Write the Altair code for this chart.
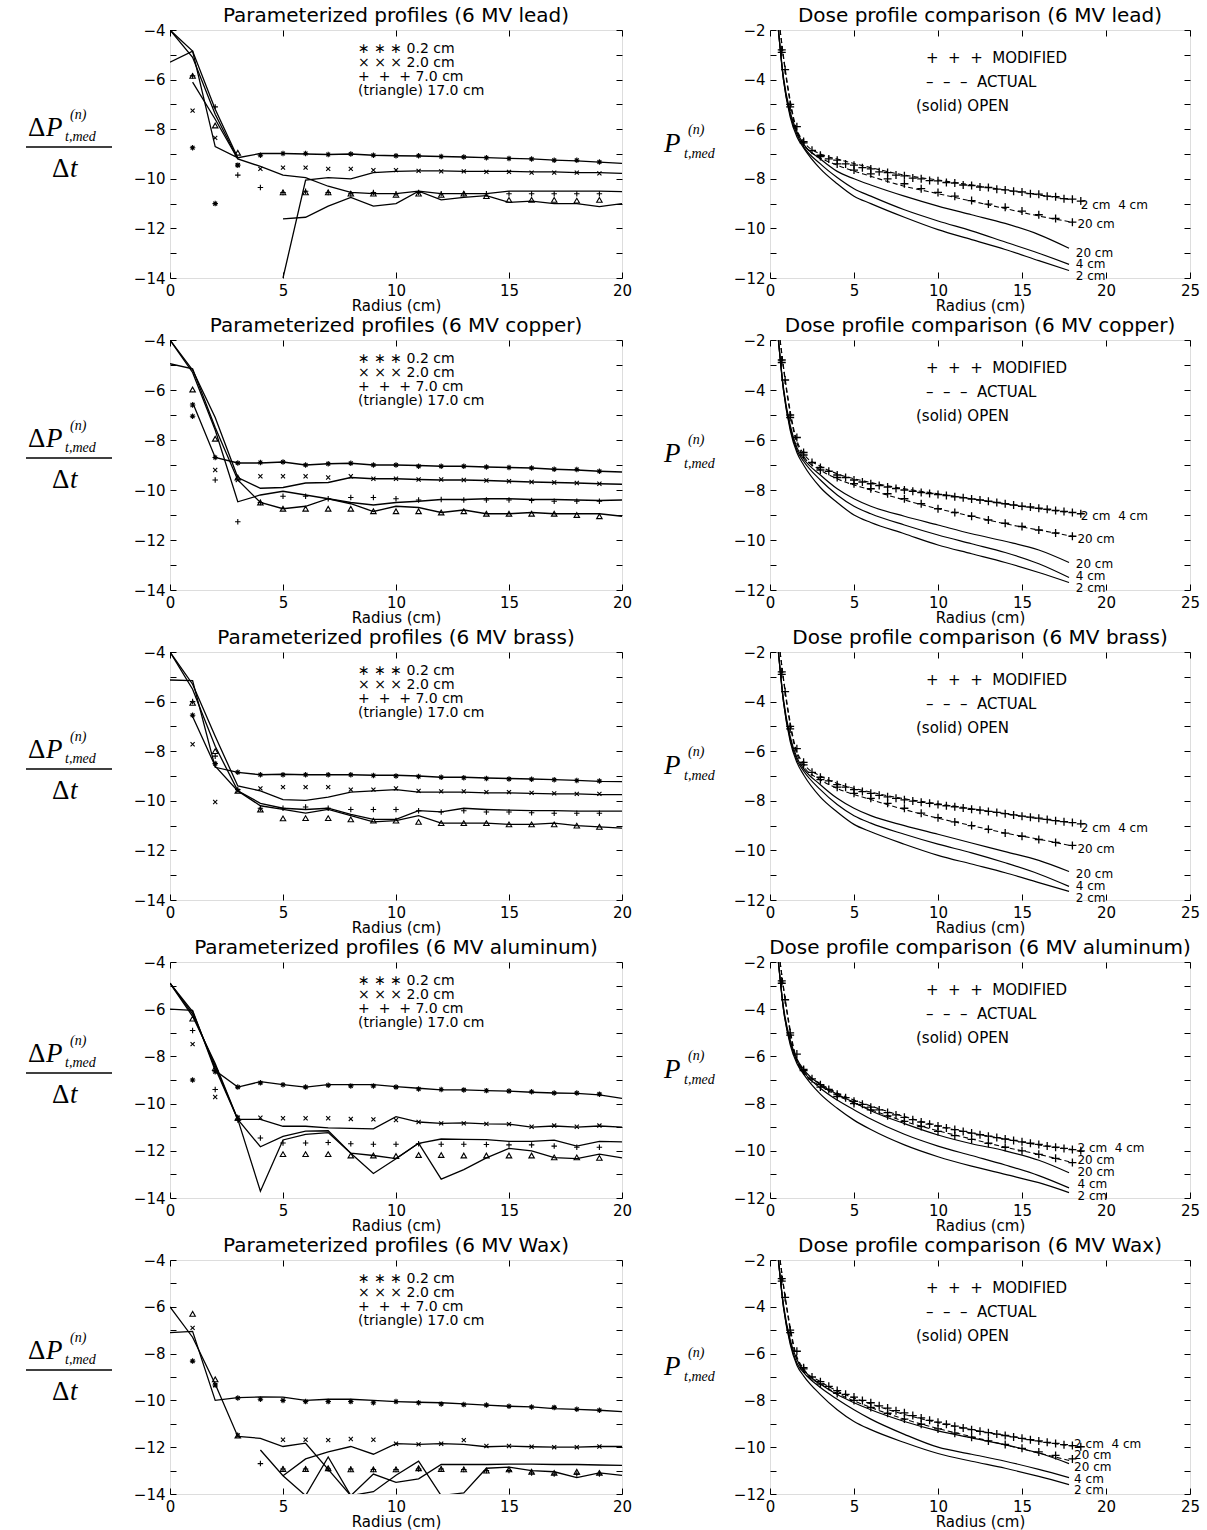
import altair as alt
import pandas as pd

FONT = "DejaVu Sans"
SERIF = "Liberation Serif"
NB = "\u00a0"

MATERIALS = ["lead", "copper", "brass", "aluminum", "Wax"]
LEFT_TITLES = ["Parameterized profiles (6 MV lead)", "Parameterized profiles (6 MV copper)",
               "Parameterized profiles (6 MV brass)", "Parameterized profiles (6 MV aluminum)",
               "Parameterized profiles (6 MV Wax)"]
RIGHT_TITLES = ["Dose profile comparison (6 MV lead)", "Dose profile comparison (6 MV copper)",
                "Dose profile comparison (6 MV brass)", "Dose profile comparison (6 MV aluminum)",
                "Dose profile comparison (6 MV Wax)"]

SERIES = ["0.2 cm", "2.0 cm", "7.0 cm", "17.0 cm"]
LEGEND_LEFT = ["\u2217 \u2217 \u2217 0.2 cm", "\u00d7 \u00d7 \u00d7 2.0 cm",
               "+" + NB * 2 + "+" + NB * 2 + "+ 7.0 cm", "(triangle) 17.0 cm"]
LEGEND_RIGHT = ["+" + NB * 2 + "+" + NB * 2 + "+" + NB * 2 + "MODIFIED",
                "\u2013" + NB * 2 + "\u2013" + NB * 2 + "\u2013" + NB * 2 + "ACTUAL",
                "(solid) OPEN"]
END_LABELS = ["2 cm" + NB * 2 + "4 cm", "20 cm", "20 cm", "4 cm", "2 cm"]

# ---------------- left panels: fitted curves (radius 0..20) and measured points (radius 1..19)
LEAD_FIT_02 = [-5.3, -4.85, -8.7, -9.15, -8.98, -8.98, -9.0, -9.02, -9.0, -9.05, -9.07, -9.08, -9.1, -9.12, -9.15, -9.18, -9.2, -9.25, -9.28, -9.33, -9.38]
LEAD_FIT_20A = [-4.0, -4.85, -7.2, -9.15]
LEAD_FIT_20B = [-14.0, -10.05, -9.95, -10.0, -9.75, -9.7, -9.68, -9.68, -9.7, -9.7, -9.7, -9.72, -9.72, -9.75, -9.75, -9.78]
LEAD_FIT_70 = [-4.0, -5.1, -7.4, -9.2, -9.5, -9.85, -9.95, -10.3, -10.55, -10.6, -10.6, -10.5, -10.6, -10.6, -10.6, -10.5, -10.5, -10.5, -10.5, -10.5, -10.52]
LEAD_FIT_17A = [-6.1, -7.6, -9.2]
LEAD_FIT_17B = [-11.62, -11.55, -11.1, -10.75, -11.1, -11.0, -10.5, -10.85, -10.75, -10.68, -10.95, -10.9, -11.0, -11.0, -11.12, -11.0]
LEAD_M02 = [-8.75, -11.0, -9.45, -9.05, -8.98, -8.98, -9.02, -9.0, -9.05, -9.07, -9.07, -9.1, -9.12, -9.15, -9.18, -9.2, -9.25, -9.25, -9.32]
LEAD_M20 = [-7.25, -8.35, -9.45, -9.6, -9.55, -9.55, -9.6, -9.6, -9.65, -9.65, -9.68, -9.7, -9.7, -9.72, -9.72, -9.75, -9.75, -9.75, -9.78]
LEAD_M70 = [-5.85, -7.1, -9.85, -10.35, -10.55, -10.5, -10.55, -10.6, -10.55, -10.6, -10.55, -10.6, -10.6, -10.6, -10.6, -10.6, -10.6, -10.6, -10.6]
LEAD_M17 = [-5.85, -7.85, -8.95, None, -10.55, -10.55, -10.55, -10.6, -10.6, -10.65, -10.6, -10.65, -10.6, -10.7, -10.85, -10.85, -10.85, -10.88, -10.85]

CU_FIT_02 = [-6.5, -8.7, -8.92, -8.92, -8.88, -9.0, -8.95, -8.93, -9.0, -9.0, -9.02, -9.05, -9.05, -9.08, -9.1, -9.12, -9.17, -9.2, -9.25, -9.28]
CU_FIT_20 = [-4.0, -5.2, -7.1, -9.5, -9.93, -9.9, -9.72, -9.7, -9.5, -9.55, -9.55, -9.58, -9.6, -9.6, -9.62, -9.65, -9.68, -9.7, -9.72, -9.75, -9.77]
CU_FIT_70 = [-4.0, -5.3, -7.6, -10.47, -10.2, -10.05, -10.2, -10.35, -10.5, -10.6, -10.5, -10.45, -10.38, -10.38, -10.35, -10.35, -10.38, -10.38, -10.4, -10.42, -10.4]
CU_FIT_17 = [-4.95, -5.15, -7.5, -9.6, -10.5, -10.75, -10.65, -10.35, -10.55, -10.86, -10.65, -10.7, -10.9, -10.8, -10.95, -10.95, -10.9, -10.95, -10.95, -10.95, -11.05]
CU_M02 = [-7.05, -8.7, -8.92, -8.9, -8.88, -9.0, -8.95, -8.93, -9.0, -9.0, -9.05, -9.05, -9.05, -9.08, -9.1, -9.12, -9.17, -9.18, -9.25]
CU_M20 = [-6.6, -9.2, -9.6, -9.45, -9.45, -9.45, -9.5, -9.45, -9.55, -9.55, -9.58, -9.58, -9.6, -9.62, -9.65, -9.68, -9.7, -9.72, -9.75]
CU_M70 = [-6.6, -9.6, -11.27, -10.5, -10.25, -10.25, -10.35, -10.3, -10.3, -10.35, -10.4, -10.38, -10.4, -10.4, -10.4, -10.42, -10.45, -10.45, -10.45]
CU_M17 = [-5.98, -7.95, -9.5, -10.5, -10.75, -10.75, -10.75, -10.75, -10.85, -10.85, -10.85, -10.9, -10.85, -10.95, -10.95, -10.95, -10.95, -11.0, -11.05]

BR_FIT_02 = [-5.13, -5.15, -8.65, -8.85, -8.95, -8.93, -8.95, -8.95, -8.95, -8.97, -8.97, -9.0, -9.05, -9.05, -9.08, -9.1, -9.12, -9.15, -9.18, -9.22, -9.23]
BR_FIT_20 = [-4.0, -5.3, -7.4, -9.4, -9.6, -9.95, -9.98, -9.85, -9.65, -9.6, -9.55, -9.65, -9.65, -9.65, -9.68, -9.68, -9.7, -9.72, -9.72, -9.75, -9.75]
BR_FIT_70 = [-4.0, -5.5, -7.8, -9.6, -10.1, -10.3, -10.35, -10.3, -10.55, -10.75, -10.75, -10.4, -10.45, -10.3, -10.35, -10.38, -10.4, -10.4, -10.42, -10.42, -10.42]
BR_FIT_17 = [-6.6, -8.6, -9.6, -10.2, -10.35, -10.5, -10.35, -10.6, -10.85, -10.8, -10.6, -10.9, -10.9, -10.9, -10.95, -10.95, -10.9, -11.0, -11.05, -11.1]
BR_M02 = [-6.55, -8.5, -8.85, -8.95, -8.95, -8.95, -8.95, -8.95, -8.98, -9.0, -9.02, -9.05, -9.07, -9.1, -9.12, -9.13, -9.15, -9.18, -9.2]
BR_M20 = [-7.72, -10.05, -9.6, -9.5, -9.45, -9.45, -9.45, -9.55, -9.55, -9.5, -9.6, -9.62, -9.62, -9.65, -9.65, -9.68, -9.7, -9.72, -9.72]
BR_M70 = [-6.0, -8.2, -9.55, -10.3, -10.3, -10.25, -10.3, -10.35, -10.35, -10.35, -10.4, -10.45, -10.4, -10.45, -10.45, -10.48, -10.5, -10.5, -10.5]
BR_M17 = [-6.05, -8.0, -9.6, -10.35, -10.71, -10.7, -10.7, -10.75, -10.8, -10.8, -10.85, -10.9, -10.9, -10.9, -10.95, -10.95, -10.95, -11.0, -11.05]

AL_FIT_02 = [-6.0, -6.05, -8.6, -9.3, -9.07, -9.2, -9.3, -9.2, -9.2, -9.2, -9.28, -9.35, -9.42, -9.42, -9.45, -9.47, -9.52, -9.55, -9.57, -9.63, -9.78]
AL_FIT_20 = [-4.9, -6.3, -8.3, -10.67, -10.67, -10.96, -10.96, -11.03, -11.05, -11.07, -10.55, -10.78, -10.84, -10.82, -10.86, -10.87, -11.0, -10.95, -11.0, -10.95, -11.0]
AL_FIT_70 = [-4.9, -6.2, -8.4, -10.67, -11.83, -11.39, -11.17, -11.15, -12.1, -12.2, -12.33, -11.68, -11.5, -11.52, -11.53, -11.6, -11.6, -11.55, -11.8, -11.6, -11.62]
AL_FIT_17 = [-4.9, -6.1, -8.5, -10.67, -13.71, -11.54, -11.3, -11.23, -12.1, -12.96, -12.34, -11.68, -13.2, -12.8, -12.3, -11.9, -12.0, -12.29, -12.33, -12.14, -12.3]
AL_M02 = [-9.0, -8.65, -9.3, -9.12, -9.2, -9.3, -9.22, -9.25, -9.25, -9.3, -9.38, -9.4, -9.42, -9.45, -9.47, -9.5, -9.55, -9.55, -9.6]
AL_M20 = [-7.48, -9.72, -10.6, -10.6, -10.62, -10.62, -10.62, -10.65, -10.67, -10.7, -10.78, -10.84, -10.84, -10.86, -10.87, -10.98, -10.93, -10.98, -10.93]
AL_M70 = [-6.9, -9.4, -10.7, -11.46, -11.67, -11.67, -11.65, -11.7, -11.72, -11.72, -11.7, -11.72, -11.72, -11.73, -11.75, -11.75, -11.8, -11.85, -11.85]
AL_M17 = [-6.4, -8.5, -10.6, None, -12.14, -12.14, -12.14, -12.2, -12.2, -12.22, -12.18, -12.18, -12.2, -12.2, -12.2, -12.2, -12.28, -12.28, -12.3]

WX_FIT_02 = [-7.1, -7.05, -10.0, -9.88, -9.85, -9.86, -10.0, -9.95, -9.95, -10.0, -10.05, -10.08, -10.1, -10.15, -10.2, -10.25, -10.28, -10.35, -10.38, -10.42, -10.48]
WX_FIT_20 = [-6.0, -7.3, -9.3, -11.54, -11.62, -11.97, -11.83, -12.95, -14.07, -13.15, -13.5, -13.35, -12.74, -12.74, -12.74, -12.72, -12.72, -12.74, -12.74, -12.76, -12.78]
WX_FIT_70 = [-13.22, -12.5, -12.2, -11.97, -12.3, -11.85, -11.88, -11.85, -11.88, -11.98, -11.95, -11.98, -12.0, -12.0, -11.97, -11.97]
WX_FIT_17 = [-12.12, -13.22, -14.07, -12.42, -14.07, -13.9, -13.2, -12.6, -14.07, -13.95, -12.9, -12.85, -13.0, -13.05, -13.3, -13.1, -13.2]
WX_M02 = [-8.32, -9.34, -9.9, -9.95, -10.0, -10.05, -10.05, -10.05, -10.1, -10.05, -10.1, -10.15, -10.18, -10.2, -10.25, -10.28, -10.3, -10.38, -10.42]
WX_M20 = [-6.9, -9.35, -11.5, None, -11.68, -11.68, -11.7, -11.65, -11.68, -11.85, -11.88, -11.85, -11.7, -11.95, -11.95, -11.98, -12.0, -12.0, -11.97]
WX_M70 = [None, None, None, -12.7, -12.93, -12.93, -12.93, -12.93, -12.95, -12.95, -12.93, -12.93, -12.95, -13.0, -13.0, -13.1, -13.15, -13.15, -13.15]
WX_M17 = [-6.3, -9.1, -11.5, None, -12.93, -12.93, -12.9, -12.95, -12.95, -12.95, -12.9, -12.93, -12.95, -13.0, -12.95, -13.05, -13.1, -13.05, -13.1]

# (series, first radius, values)
FITS = {
    "lead": [("0.2 cm", 0, LEAD_FIT_02), ("2.0 cm", 0, LEAD_FIT_20A), ("2.0 cm", 5, LEAD_FIT_20B),
             ("7.0 cm", 0, LEAD_FIT_70), ("17.0 cm", 1, LEAD_FIT_17A), ("17.0 cm", 5, LEAD_FIT_17B)],
    "copper": [("0.2 cm", 1, CU_FIT_02), ("2.0 cm", 0, CU_FIT_20), ("7.0 cm", 0, CU_FIT_70), ("17.0 cm", 0, CU_FIT_17)],
    "brass": [("0.2 cm", 0, BR_FIT_02), ("2.0 cm", 0, BR_FIT_20), ("7.0 cm", 0, BR_FIT_70), ("17.0 cm", 1, BR_FIT_17)],
    "aluminum": [("0.2 cm", 0, AL_FIT_02), ("2.0 cm", 0, AL_FIT_20), ("7.0 cm", 0, AL_FIT_70), ("17.0 cm", 0, AL_FIT_17)],
    "Wax": [("0.2 cm", 0, WX_FIT_02), ("2.0 cm", 0, WX_FIT_20), ("7.0 cm", 5, WX_FIT_70), ("17.0 cm", 4, WX_FIT_17)],
}
MARKS = {
    "lead": [LEAD_M02, LEAD_M20, LEAD_M70, LEAD_M17],
    "copper": [CU_M02, CU_M20, CU_M70, CU_M17],
    "brass": [BR_M02, BR_M20, BR_M70, BR_M17],
    "aluminum": [AL_M02, AL_M20, AL_M70, AL_M17],
    "Wax": [WX_M02, WX_M20, WX_M70, WX_M17],
}

# ---------------- right panels
OPEN_X = [0.5, 0.8, 1.2, 1.6, 2, 3, 4, 5, 6, 8, 10, 12, 14, 16, 17.8]
MOD_X = [0.7, 1.2, 2, 3, 4, 5, 6, 7, 8, 9, 10, 11, 12, 13, 14, 15, 16, 17, 18]
MOD4_X = [0.9, 1.6, 2.5, 3.5, 4.5, 5.5, 6.5, 7.5, 8.5, 9.5, 10.5, 11.5, 12.5, 13.5, 14.5, 15.5, 16.5, 17.5, 18.5]
ACT_X = [0.6, 1.0, 1.5, 2, 3, 4, 6, 8, 10, 12, 14, 16, 18]

LEAD_OPEN2 = [-2.0, -4.0, -5.5, -6.3, -6.75, -7.6, -8.2, -8.7, -9.0, -9.55, -10.05, -10.45, -10.85, -11.3, -11.7]
LEAD_OPEN4 = [-2.0, -4.0, -5.4, -6.2, -6.7, -7.4, -7.95, -8.4, -8.7, -9.25, -9.7, -10.1, -10.55, -11.0, -11.45]
LEAD_OPEN20 = [-2.0, -3.9, -5.3, -6.1, -6.6, -7.2, -7.7, -8.0, -8.25, -8.7, -9.1, -9.45, -9.8, -10.25, -10.8]
LEAD_MOD2 = [-2.8, -5.0, -6.5, -7.05, -7.25, -7.45, -7.6, -7.75, -7.88, -8.0, -8.08, -8.17, -8.27, -8.35, -8.45, -8.53, -8.62, -8.72, -8.82]
LEAD_MOD4 = [-3.6, -5.9, -6.85, -7.2, -7.4, -7.55, -7.72, -7.85, -7.97, -8.07, -8.15, -8.25, -8.33, -8.42, -8.5, -8.6, -8.7, -8.8, -8.9]
LEAD_MOD20 = [-2.9, -5.1, -6.55, -7.1, -7.4, -7.65, -7.8, -8.0, -8.2, -8.4, -8.55, -8.7, -8.88, -9.02, -9.15, -9.3, -9.45, -9.6, -9.75]
LEAD_ACT24 = [-2.0, -4.0, -5.8, -6.5, -7.0, -7.2, -7.55, -7.85, -8.05, -8.25, -8.45, -8.65, -8.85]
LEAD_ACT20 = [-2.0, -4.1, -5.9, -6.6, -7.15, -7.45, -7.9, -8.3, -8.6, -8.9, -9.2, -9.5, -9.75]
LEAD_LBL_X = [18.5, 18.3, 18.2, 18.2, 18.2]
LEAD_LBL_Y = [-9.05, -9.83, -10.98, -11.44, -11.9]

CU_OPEN2 = [-2.0, -4.0, -5.6, -6.5, -7.0, -7.9, -8.5, -9.0, -9.3, -9.75, -10.2, -10.55, -10.9, -11.3, -11.7]
CU_OPEN4 = [-2.0, -4.0, -5.5, -6.4, -6.85, -7.6, -8.2, -8.65, -8.95, -9.4, -9.8, -10.15, -10.5, -10.95, -11.5]
CU_OPEN20 = [-2.0, -3.9, -5.4, -6.3, -6.75, -7.4, -7.95, -8.35, -8.65, -9.05, -9.4, -9.75, -10.05, -10.4, -10.9]
CU_MOD2 = [-2.8, -5.0, -6.5, -7.1, -7.4, -7.6, -7.75, -7.88, -8.0, -8.1, -8.18, -8.27, -8.36, -8.45, -8.55, -8.65, -8.73, -8.82, -8.9]
CU_MOD4 = [-3.6, -5.9, -6.9, -7.25, -7.5, -7.68, -7.82, -7.94, -8.05, -8.14, -8.22, -8.31, -8.4, -8.5, -8.6, -8.68, -8.77, -8.86, -8.95]
CU_MOD20 = [-2.9, -5.1, -6.6, -7.2, -7.5, -7.75, -7.95, -8.15, -8.35, -8.55, -8.75, -8.9, -9.05, -9.2, -9.33, -9.46, -9.6, -9.72, -9.85]
CU_ACT24 = [-2.0, -4.0, -5.8, -6.55, -7.05, -7.35, -7.7, -7.95, -8.15, -8.35, -8.55, -8.75, -8.9]
CU_ACT20 = [-2.0, -4.1, -5.9, -6.65, -7.2, -7.55, -8.0, -8.4, -8.75, -9.05, -9.35, -9.6, -9.85]
CU_LBL_X = [18.5, 18.3, 18.2, 18.2, 18.2]
CU_LBL_Y = [-9.05, -9.94, -10.96, -11.43, -11.9]

BR_OPEN2 = [-2.0, -4.0, -5.6, -6.45, -6.95, -7.85, -8.45, -8.95, -9.25, -9.75, -10.2, -10.55, -10.9, -11.3, -11.65]
BR_OPEN4 = [-2.0, -4.0, -5.5, -6.35, -6.8, -7.55, -8.15, -8.6, -8.9, -9.35, -9.75, -10.1, -10.5, -10.95, -11.45]
BR_OPEN20 = [-2.0, -3.9, -5.4, -6.25, -6.7, -7.35, -7.9, -8.3, -8.6, -9.0, -9.35, -9.7, -10.05, -10.4, -10.85]
BR_MOD2 = [-2.8, -5.0, -6.45, -7.05, -7.35, -7.55, -7.7, -7.84, -7.96, -8.06, -8.15, -8.24, -8.34, -8.43, -8.52, -8.62, -8.7, -8.8, -8.88]
BR_MOD4 = [-3.6, -5.9, -6.85, -7.2, -7.45, -7.63, -7.78, -7.9, -8.01, -8.1, -8.2, -8.29, -8.38, -8.47, -8.57, -8.66, -8.75, -8.84, -8.93]
BR_MOD20 = [-2.9, -5.1, -6.55, -7.15, -7.45, -7.7, -7.9, -8.1, -8.3, -8.5, -8.68, -8.85, -9.0, -9.15, -9.3, -9.43, -9.56, -9.68, -9.8]
BR_ACT24 = [-2.0, -4.0, -5.8, -6.5, -7.0, -7.3, -7.65, -7.92, -8.12, -8.32, -8.52, -8.72, -8.88]
BR_ACT20 = [-2.0, -4.1, -5.9, -6.6, -7.15, -7.5, -7.95, -8.35, -8.7, -9.0, -9.3, -9.55, -9.82]
BR_LBL_X = [18.5, 18.3, 18.2, 18.2, 18.2]
BR_LBL_Y = [-9.1, -9.95, -10.96, -11.43, -11.9]

AL_OPEN2 = [-2.0, -4.0, -5.5, -6.3, -6.75, -7.6, -8.2, -8.7, -9.1, -9.75, -10.25, -10.65, -11.0, -11.35, -11.77]
AL_OPEN4 = [-2.0, -4.0, -5.4, -6.2, -6.65, -7.35, -7.85, -8.26, -8.65, -9.3, -9.8, -10.2, -10.6, -11.05, -11.57]
AL_OPEN20 = [-2.0, -3.9, -5.3, -6.1, -6.55, -7.2, -7.6, -7.95, -8.3, -8.85, -9.33, -9.7, -10.0, -10.4, -10.93]
AL_MOD2 = [-2.8, -5.0, -6.55, -7.2, -7.6, -7.9, -8.15, -8.38, -8.58, -8.78, -8.95, -9.1, -9.25, -9.38, -9.5, -9.62, -9.73, -9.85, -9.95]
AL_MOD4 = [-3.6, -5.9, -6.95, -7.4, -7.75, -8.03, -8.27, -8.48, -8.68, -8.87, -9.03, -9.18, -9.32, -9.44, -9.56, -9.68, -9.8, -9.9, -10.0]
AL_MOD20 = [-2.9, -5.1, -6.6, -7.3, -7.7, -8.0, -8.27, -8.52, -8.75, -8.97, -9.18, -9.36, -9.52, -9.68, -9.85, -10.0, -10.15, -10.32, -10.5]
AL_ACT24 = [-2.0, -4.0, -5.9, -6.6, -7.15, -7.55, -8.1, -8.55, -8.95, -9.25, -9.5, -9.75, -9.95]
AL_ACT20 = [-2.0, -4.1, -6.0, -6.7, -7.25, -7.65, -8.25, -8.75, -9.15, -9.5, -9.85, -10.15, -10.5]
AL_LBL_X = [18.3, 18.3, 18.3, 18.3, 18.3]
AL_LBL_Y = [-9.9, -10.4, -10.9, -11.4, -11.9]

WX_OPEN2 = [-2.0, -4.0, -5.6, -6.5, -6.95, -7.75, -8.4, -8.9, -9.25, -9.8, -10.27, -10.6, -10.9, -11.25, -11.6]
WX_OPEN4 = [-2.0, -4.0, -5.5, -6.4, -6.8, -7.45, -7.95, -8.4, -8.8, -9.45, -10.0, -10.3, -10.6, -10.95, -11.3]
WX_OPEN20 = [-2.0, -3.9, -5.4, -6.25, -6.7, -7.3, -7.75, -8.1, -8.4, -8.9, -9.3, -9.6, -9.9, -10.25, -10.7]
WX_MOD2 = [-2.8, -5.0, -6.6, -7.2, -7.58, -7.86, -8.1, -8.33, -8.53, -8.75, -8.93, -9.1, -9.25, -9.38, -9.5, -9.62, -9.73, -9.84, -9.93]
WX_MOD4 = [-3.6, -5.9, -7.0, -7.4, -7.74, -8.0, -8.23, -8.44, -8.65, -8.85, -9.02, -9.18, -9.32, -9.44, -9.56, -9.68, -9.79, -9.89, -9.98]
WX_MOD20 = [-2.9, -5.1, -6.65, -7.3, -7.7, -8.0, -8.3, -8.55, -8.8, -9.02, -9.22, -9.4, -9.57, -9.73, -9.88, -10.05, -10.2, -10.35, -10.5]
WX_ACT24 = [-2.0, -4.0, -5.9, -6.65, -7.2, -7.6, -8.15, -8.6, -8.95, -9.25, -9.5, -9.75, -9.95]
WX_ACT20 = [-2.0, -4.1, -6.0, -6.75, -7.3, -7.7, -8.3, -8.8, -9.2, -9.55, -9.9, -10.25, -10.6]
WX_LBL_X = [18.1, 18.1, 18.1, 18.1, 18.1]
WX_LBL_Y = [-9.85, -10.35, -10.85, -11.35, -11.85]

DOSE = {
    "lead": (LEAD_OPEN2, LEAD_OPEN4, LEAD_OPEN20, LEAD_MOD2, LEAD_MOD4, LEAD_MOD20, LEAD_ACT24, LEAD_ACT20, LEAD_LBL_X, LEAD_LBL_Y),
    "copper": (CU_OPEN2, CU_OPEN4, CU_OPEN20, CU_MOD2, CU_MOD4, CU_MOD20, CU_ACT24, CU_ACT20, CU_LBL_X, CU_LBL_Y),
    "brass": (BR_OPEN2, BR_OPEN4, BR_OPEN20, BR_MOD2, BR_MOD4, BR_MOD20, BR_ACT24, BR_ACT20, BR_LBL_X, BR_LBL_Y),
    "aluminum": (AL_OPEN2, AL_OPEN4, AL_OPEN20, AL_MOD2, AL_MOD4, AL_MOD20, AL_ACT24, AL_ACT20, AL_LBL_X, AL_LBL_Y),
    "Wax": (WX_OPEN2, WX_OPEN4, WX_OPEN20, WX_MOD2, WX_MOD4, WX_MOD20, WX_ACT24, WX_ACT20, WX_LBL_X, WX_LBL_Y),
}

# ---------------- styling / layout
SHAPES = ["M-1,0L1,0M0,-1L0,1M-0.7,-0.7L0.7,0.7M-0.7,0.7L0.7,-0.7",
          "M-0.75,-0.75L0.75,0.75M-0.75,0.75L0.75,-0.75",
          "M-1,0L1,0M0,-1L0,1",
          "triangle-up"]
PLUS = "M-1,0L1,0M0,-1L0,1"
LW, RW = 452, 420
ROW_H = [248, 250, 248, 236, 234]
ONE = pd.DataFrame({"k": [0]})


def ax(orient, values, labels=True, title=None, even=True):
    kw = dict(orient=orient, values=values, domain=False, ticks=True, tickSize=6, offset=-6,
              tickColor="black", tickWidth=1, grid=False, labels=labels, labelFont=FONT,
              labelFontSize=15, labelColor="black", labelPadding=5, labelFlush=False,
              labelOverlap=False, title=title)
    if even:
        kw["labelExpr"] = "datum.value % 2 == 0 ? datum.label : ''"
    if title:
        kw.update(titleFont=FONT, titleFontSize=15, titleFontWeight="normal", titleColor="black",
                  titlePadding=0)
    return alt.Axis(**kw)


def txt(s, x, y, size, font=FONT, style="normal", align="left", baseline="middle"):
    return alt.Chart(ONE).mark_text(text=s, font=font, fontSize=size, fontStyle=style, align=align,
                                    baseline=baseline, color="black").encode(x=alt.value(x), y=alt.value(y))


def title(s):
    return alt.TitleParams(s, font=FONT, fontSize=20, fontWeight="normal", color="black",
                           anchor="middle", offset=-3)


def left_panel(i):
    mat = MATERIALS[i]
    fit_rows = []
    for seg, (ser, start, vals) in enumerate(FITS[mat]):
        for j, v in enumerate(vals):
            fit_rows.append({"r": start + j, "v": v, "seg": seg, "s": ser})
    mk_rows = []
    for ser, vals in zip(SERIES, MARKS[mat]):
        for j, v in enumerate(vals):
            if v is not None:
                mk_rows.append({"r": j + 1, "v": v, "s": ser})
    xs = alt.Scale(domain=[0, 20], nice=False)
    ys = alt.Scale(domain=[-14, -4], nice=False)
    xt = [0, 5, 10, 15, 20]
    yt = list(range(-14, -3))
    lines = alt.Chart(pd.DataFrame(fit_rows)).mark_line(color="black", strokeWidth=1.3, clip=True).encode(
        x=alt.X("r:Q", scale=xs, axis=ax("bottom", xt, title="Radius (cm)", even=False)),
        y=alt.Y("v:Q", scale=ys, axis=ax("left", yt)),
        detail="seg:N")
    pts = alt.Chart(pd.DataFrame(mk_rows)).mark_point(filled=False, color="black", strokeWidth=1.1,
                                                      size=30, clip=True, opacity=1).encode(
        x=alt.X("r:Q", scale=xs, axis=ax("top", xt, labels=False, even=False)),
        y=alt.Y("v:Q", scale=ys, axis=ax("right", yt, labels=False)),
        shape=alt.Shape("s:N", scale=alt.Scale(domain=SERIES, range=SHAPES), legend=None))
    leg = [txt(t, 188, 19 + 14 * k, 14) for k, t in enumerate(LEGEND_LEFT)]
    return alt.layer(lines, pts, *leg).resolve_axis(x="independent", y="independent").properties(
        width=LW, height=ROW_H[i], title=title(LEFT_TITLES[i]))


def right_panel(i):
    mat = MATERIALS[i]
    o2, o4, o20, m2, m4, m20, a24, a20, lx, ly = DOSE[mat]
    open_rows = [{"x": x, "v": v, "c": c} for c, vals in (("2", o2), ("4", o4), ("20", o20))
                 for x, v in zip(OPEN_X, vals)]
    mod_rows = [{"x": x, "v": v, "c": c} for c, xv, vals in (("2", MOD_X, m2), ("4", MOD4_X, m4), ("20", MOD_X, m20))
                for x, v in zip(xv, vals)]
    act_rows = [{"x": x, "v": v, "c": c} for c, vals in (("24", a24), ("20", a20)) for x, v in zip(ACT_X, vals)]
    lbl_rows = [{"x": x, "v": v, "t": t} for x, v, t in zip(lx, ly, END_LABELS)]
    xs = alt.Scale(domain=[0, 25], nice=False)
    ys = alt.Scale(domain=[-12, -2], nice=False)
    xt = [0, 5, 10, 15, 20, 25]
    yt = list(range(-12, -1))
    opn = alt.Chart(pd.DataFrame(open_rows)).mark_line(color="black", strokeWidth=1.2, clip=True,
                                                       interpolate="monotone").encode(
        x=alt.X("x:Q", scale=xs, axis=ax("bottom", xt, title="Radius (cm)", even=False)),
        y=alt.Y("v:Q", scale=ys, axis=ax("left", yt)),
        detail="c:N")
    act = alt.Chart(pd.DataFrame(act_rows)).mark_line(color="black", strokeWidth=1.1, clip=True,
                                                      strokeDash=[5, 3], interpolate="monotone").encode(
        x=alt.X("x:Q", scale=xs, axis=None),
        y=alt.Y("v:Q", scale=ys, axis=None),
        detail="c:N")
    mod = alt.Chart(pd.DataFrame(mod_rows)).mark_point(shape=PLUS, filled=False, color="black",
                                                       strokeWidth=1.3, size=64, clip=True, opacity=1).encode(
        x=alt.X("x:Q", scale=xs, axis=ax("top", xt, labels=False, even=False)),
        y=alt.Y("v:Q", scale=ys, axis=ax("right", yt, labels=False)))
    lbl = alt.Chart(pd.DataFrame(lbl_rows)).mark_text(align="left", baseline="middle", font=FONT,
                                                      fontSize=12, color="black").encode(
        x=alt.X("x:Q", scale=xs, axis=None),
        y=alt.Y("v:Q", scale=ys, axis=None),
        text="t:N")
    leg = [txt(t, 156 if k < 2 else 146, 28 + 24 * k, 15) for k, t in enumerate(LEGEND_RIGHT)]
    return alt.layer(opn, act, mod, lbl, *leg).resolve_axis(x="independent", y="independent").properties(
        width=RW, height=ROW_H[i], title=title(RIGHT_TITLES[i]))


NOVIEW = alt.ViewBackground(stroke="transparent")


def left_label(i):
    h = ROW_H[i]
    y0 = round(h * 0.47) - 11
    parts = [
        txt("\u0394", 22, y0, 27, font=SERIF, baseline="alphabetic"),
        txt("P", 40, y0, 27, font=SERIF, style="italic", baseline="alphabetic"),
        txt("(n)", 64, y0 - 17, 14, font=SERIF, style="italic", baseline="alphabetic"),
        txt("t,med", 59, y0 + 5, 14, font=SERIF, style="italic", baseline="alphabetic"),
        alt.Chart(ONE).mark_rule(color="black", strokeWidth=1.3).encode(
            x=alt.value(20), x2=alt.value(106), y=alt.value(y0 + 11)),
        txt("\u0394", 46, y0 + 41, 27, font=SERIF, baseline="alphabetic"),
        txt("t", 64, y0 + 41, 27, font=SERIF, style="italic", baseline="alphabetic"),
    ]
    return alt.layer(*parts).properties(width=125, height=h, view=NOVIEW)


def right_label(i):
    h = ROW_H[i]
    y0 = round(h * 0.49)
    parts = [
        txt("P", 30, y0, 27, font=SERIF, style="italic", baseline="alphabetic"),
        txt("(n)", 54, y0 - 18, 14, font=SERIF, style="italic", baseline="alphabetic"),
        txt("t,med", 50, y0 + 6, 14, font=SERIF, style="italic", baseline="alphabetic"),
    ]
    return alt.layer(*parts).properties(width=97, height=h, view=NOVIEW)


rows = []
for i in range(5):
    rows.append(alt.hconcat(left_label(i), left_panel(i), right_label(i), right_panel(i), spacing=0))

chart = alt.vconcat(*rows, spacing=1).properties(
    padding={"left": 5, "top": 5, "right": 0, "bottom": 0}
).configure_view(stroke="black", strokeWidth=1.2).configure(background="white")

chart.save("out.html", embed_options={"renderer": "svg", "actions": False})
